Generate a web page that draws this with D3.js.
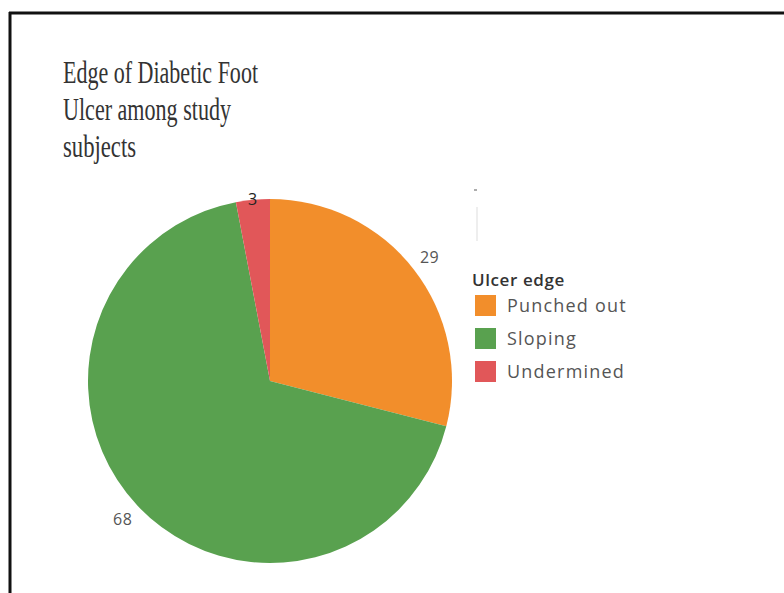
<!DOCTYPE html>
<html>
<head>
<meta charset="utf-8">
<script src="https://cdn.jsdelivr.net/npm/d3@7"></script>
<style>
  html, body { margin: 0; padding: 0; background: #fff; }
  svg { display: block; }
</style>
</head>
<body>
<svg id="chart" width="784" height="593"></svg>
<script>
// Ulcer edge categories and their counts
const categories = ["Punched out", "Sloping", "Undermined"];
const counts = [29, 68, 3];
const colors = ["#F28E2B", "#59A14F", "#E15759"];
const titleLines = ["Edge of Diabetic Foot", "Ulcer among study", "subjects"];
const legendTitle = "Ulcer edge";

const svg = d3.select("#chart");
const W = 784, H = 593;
const sans = "'Open Sans', 'Noto Sans', sans-serif";

// frame: top and left rules
svg.append("line").attr("x1", 9).attr("x2", W).attr("y1", 13).attr("y2", 13)
  .attr("stroke", "#111").attr("stroke-width", 3);
svg.append("line").attr("x1", 10).attr("x2", 10).attr("y1", 12).attr("y2", H)
  .attr("stroke", "#111").attr("stroke-width", 3);

// title (condensed serif)
const titleWidths = [195, 168, 73];
svg.append("g").selectAll("text").data(titleLines).join("text")
  .attr("x", 63)
  .attr("y", (d, i) => 83 + i * 37)
  .attr("font-family", "'Liberation Serif', 'DejaVu Serif', serif")
  .attr("font-size", 32)
  .attr("fill", "#333")
  .attr("textLength", (d, i) => titleWidths[i])
  .attr("lengthAdjust", "spacingAndGlyphs")
  .text(d => d);

// pie
const data = categories.map((c, i) => ({ cat: c, value: counts[i], color: colors[i] }));
const cx = 270, cy = 381, r = 182;
const pie = d3.pie().value(d => d.value).sort(null);
const arcs = pie(data);
const arc = d3.arc().innerRadius(0).outerRadius(r);

const g = svg.append("g").attr("transform", `translate(${cx},${cy})`);
g.selectAll("path").data(arcs).join("path")
  .attr("d", arc)
  .attr("fill", d => d.data.color);

// value labels outside the pie; the thin top slice sits right at the rim
const labelArc = d => {
  const rr = d.data.value < 5 ? r + 1 : r + 20;
  return d3.arc().innerRadius(rr).outerRadius(rr).centroid(d);
};
g.selectAll("text.val").data(arcs).join("text")
  .attr("class", "val")
  .attr("x", d => labelArc(d)[0])
  .attr("y", d => labelArc(d)[1])
  .attr("text-anchor", "middle")
  .attr("dominant-baseline", "central")
  .attr("font-family", sans)
  .attr("font-size", 16)
  .attr("letter-spacing", 0.5)
  .attr("fill", d => d.data.value < 5 ? "#222" : "#555")
  .text(d => d.data.value);

// faint marks above the legend
svg.append("line").attr("x1", 474).attr("x2", 477).attr("y1", 190).attr("y2", 190)
  .attr("stroke", "#777").attr("stroke-width", 1.2);
svg.append("line").attr("x1", 477).attr("x2", 477).attr("y1", 207).attr("y2", 241)
  .attr("stroke", "#ddd").attr("stroke-width", 1);

// legend
const lg = svg.append("g").attr("transform", "translate(472,0)");
lg.append("text").attr("x", 0).attr("y", 286)
  .attr("font-family", sans)
  .attr("font-size", 17).attr("font-weight", 600).attr("fill", "#333")
  .attr("letter-spacing", 0.6)
  .text(legendTitle);
const items = lg.selectAll("g.item").data(data).join("g")
  .attr("class", "item")
  .attr("transform", (d, i) => `translate(0,${295 + i * 33})`);
items.append("rect").attr("x", 3).attr("y", 0).attr("width", 21).attr("height", 21)
  .attr("fill", d => d.color);
items.append("text").attr("x", 35).attr("y", 17)
  .attr("font-family", sans)
  .attr("font-size", 18).attr("fill", "#555")
  .attr("letter-spacing", 1.2)
  .text(d => d.cat);
</script>
</body>
</html>
